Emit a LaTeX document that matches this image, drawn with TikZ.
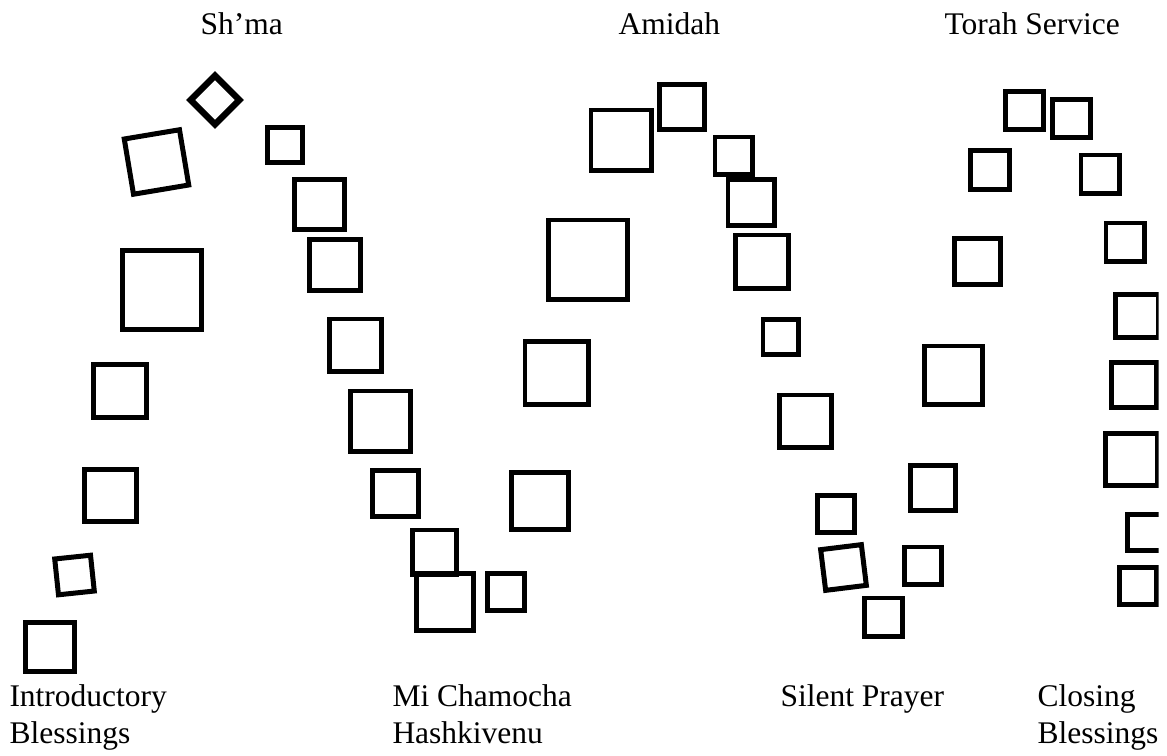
\documentclass[tikz,border=0pt]{standalone}
\usepackage{fontspec}
\setmainfont{Liberation Serif}
\begin{document}
\begin{tikzpicture}[x=1pt,y=-1pt,
  sq/.style={draw=black,line width=4.7pt,line join=miter,fill=none,inner sep=0pt,outer sep=0pt,minimum size=#1},
  lbl/.style={anchor=base west,inner sep=0pt,outer sep=0pt,font=\fontsize{31.5}{37}\selectfont}]
\useasboundingbox[fill=white] (0,0) rectangle (1167,755);
\begin{scope}
\clip (0,0) rectangle (1158.5,755);
% first wave (Sh'ma)
\node[sq=49.3pt] (s1) at (50,647) {};
\node[sq=36pt,rotate=6,line width=5pt] (s2) at (74.5,575) {};
\node[sq=52.3pt] (s3) at (110.5,495.5) {};
\node[sq=53.3pt] (s4) at (120,391) {};
\node[sq=79.3pt] (s5) at (162,290) {};
\node[sq=56pt,rotate=9.5,line width=5pt] (s6) at (156.5,162) {};
\node[sq=34.5pt,rotate=45,line width=6.5pt] (s7) at (215,100) {};
\node[sq=35.3pt] (s8) at (285,145) {};
\node[sq=50.3pt] (s9) at (319.5,204.5) {};
\node[sq=51.3pt] (s10) at (335,265) {};
\node[sq=52.3pt] (s11) at (355.5,345) {};
\node[sq=60.3pt] (s12) at (380.5,421) {};
\node[sq=46.3pt] (s13) at (395.5,493.5) {};
\node[sq=44.3pt] (s14) at (434.5,552) {};
\node[sq=57.3pt] (s15) at (445,602) {};
% second wave (Amidah)
\node[sq=37.3pt] (s16) at (506,592) {};
\node[sq=57.3pt] (s17) at (540,501) {};
\node[sq=63.3pt] (s18) at (556.5,373) {};
\node[sq=79.3pt] (s19) at (588,259.5) {};
\node[sq=60.3pt] (s20) at (621,140) {};
\node[sq=45.3pt] (s21) at (682,107) {};
\node[sq=37.3pt] (s22) at (733.5,155.5) {};
\node[sq=46.3pt] (s23) at (751,202.5) {};
\node[sq=53.3pt] (s24) at (762,261.5) {};
\node[sq=35.3pt] (s25) at (780.5,337) {};
\node[sq=52.3pt] (s26) at (805.5,421) {};
\node[sq=37.3pt] (s27) at (836,514) {};
\node[sq=41pt,rotate=7,line width=5pt] (s28) at (843.5,567.5) {};
\node[sq=38.3pt] (s29) at (883.5,617) {};
% third wave (Torah Service)
\node[sq=37.3pt] (s30) at (923,565.5) {};
\node[sq=45.3pt] (s31) at (933,488) {};
\node[sq=58.3pt] (s32) at (953.5,375) {};
\node[sq=46.3pt] (s33) at (977.5,261.5) {};
\node[sq=39.3pt] (s34) at (990,170) {};
\node[sq=38.3pt] (s35) at (1024.5,110.5) {};
\node[sq=38.3pt] (s36) at (1071.5,118.5) {};
\node[sq=38.3pt] (s37) at (1100,174) {};
\node[sq=38.3pt] (s38) at (1125,242) {};
\node[sq=43.3pt] (s39) at (1137,316) {};
\node[sq=45.3pt] (s40) at (1134,385) {};
\node[sq=52.3pt] (s41) at (1131.5,459.5) {};
\node[sq=36.3pt] (s42) at (1145.5,532.5) {};
\node[sq=37.3pt] (s43) at (1138,586) {};
\end{scope}
% labels
\node[lbl] (shma) at (200.5,34.5) {Sh’ma};
\node[lbl] (amidah) at (618.5,34.5) {Amidah};
\node[lbl] (torah) at (944.5,34.5) {Torah Service};
\node[lbl] (introA) at (9.5,706.5) {Introductory};
\node[lbl] (introB) at (9.5,743.5) {Blessings};
\node[lbl] (miA) at (392.5,706.5) {Mi Chamocha};
\node[lbl] (miB) at (392.5,743.5) {Hashkivenu};
\node[lbl] (silent) at (780.5,706.5) {Silent Prayer};
\node[lbl] (closeA) at (1037.5,706.5) {Closing};
\node[lbl] (closeB) at (1037.5,743.5) {Blessings};
\end{tikzpicture}
\end{document}
